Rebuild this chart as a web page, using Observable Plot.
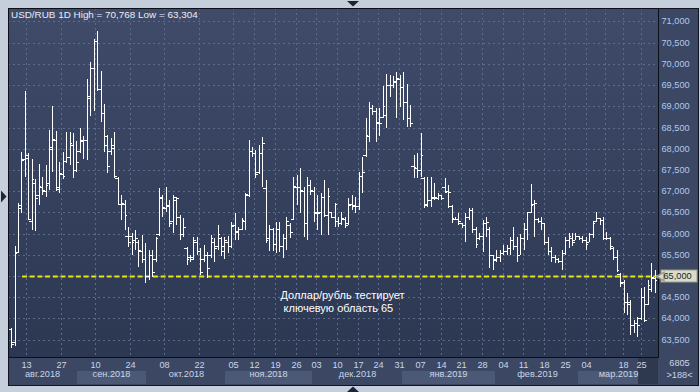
<!DOCTYPE html>
<html><head><meta charset="utf-8">
<script src="https://cdn.jsdelivr.net/npm/d3@7"></script>
<script src="https://cdn.jsdelivr.net/npm/@observablehq/plot@0.6"></script>
<style>
html,body{margin:0;padding:0;background:#c5cfdc;}
#chart{width:700px;height:392px;overflow:hidden;}
</style></head><body><div id="chart"></div>
<script>
// Daily OHLC, USD/RUB, Aug 2018 - Mar 2019 (188 bars)
const open = [
 63.75,63.45,65.57,66.60,67.75,67.85,66.30,67.20,66.90,67.10,
 67.00,67.20,68.00,68.20,67.10,67.40,67.70,67.80,68.10,67.50,
 67.95,68.20,68.20,69.20,69.90,70.55,69.40,68.85,68.30,67.95,
 68.10,67.30,66.70,66.70,65.95,65.95,65.85,65.80,65.60,65.40,
 65.00,65.50,65.40,66.00,66.85,66.60,66.65,66.30,66.80,66.40,
 66.00,65.65,65.45,65.45,65.80,65.60,65.40,65.50,65.50,
 65.80,65.70,65.90,65.60,65.80,65.70,
 66.20,66.05,66.10,66.30,66.90,67.95,67.90,67.45,67.90,67.07,
 65.90,66.10,65.75,66.10,65.70,65.90,66.20,66.35,67.10,67.10,
 67.00,66.25,67.15,67.00,66.50,66.50,66.86,66.45,66.50,66.40,
 66.30,66.25,66.35,66.25,66.70,66.65,66.65,67.36,67.85,68.30,
 68.96,68.90,68.60,68.75,68.80,69.50,69.50,69.60,69.65,69.45,
 69.10,68.72,67.60,67.55,67.50,67.30,66.70,66.80,66.85,66.85,
 66.90,67.10,67.00,66.65,66.35,66.35,66.25,66.20,66.40,66.55,
 66.10,65.90,65.95,66.25,66.10,65.50,65.40,65.45,65.55,65.60,
 65.65,65.85,65.70,65.50,65.90,66.10,66.50,66.70,66.35,66.30,
 66.25,65.80,65.60,65.45,65.40,65.35,65.55,65.85,65.90,65.85,
 65.95,65.90,65.85,65.80,66.00,66.30,66.37,66.32,
 65.90,65.90,65.65,65.45,65.05,64.85,64.40,64.35,63.85,63.90,64.00,64.50,64.35,64.70,64.95
];
const high = [
 63.78,65.70,66.72,67.92,69.36,67.90,67.76,67.29,67.64,67.33,
 67.62,68.44,69.01,68.42,67.69,67.92,68.40,68.40,68.37,68.18,
 68.49,68.30,69.64,70.05,70.59,70.768,69.83,69.06,68.32,68.25,
 68.40,67.33,66.91,66.79,66.16,66.02,66.08,65.85,65.97,65.78,
 65.62,65.62,65.92,67.07,66.91,67.10,66.79,66.91,66.86,66.44,
 66.37,65.68,65.50,65.92,65.92,65.66,65.73,65.57,65.97,
 65.89,66.20,65.92,65.92,65.95,66.27,
 66.49,66.16,66.37,66.96,68.21,68.05,67.97,68.10,68.28,67.26,
 66.20,66.13,66.27,66.27,66.00,66.39,66.25,67.33,67.38,67.55,
 67.10,67.33,67.26,67.10,66.91,66.96,67.26,67.07,66.51,66.72,
 66.39,66.51,66.39,66.84,66.91,66.86,67.45,67.81,68.72,69.10,
 69.03,68.95,68.96,69.48,69.76,69.74,69.72,69.81,69.74,69.81,
 69.53,69.03,67.85,67.90,68.37,67.33,67.33,67.33,67.19,66.96,
 66.91,67.31,67.15,66.67,66.39,66.49,66.25,66.49,66.60,66.60,
 66.16,66.02,66.32,66.39,66.16,65.50,65.62,65.62,65.73,65.73,
 65.92,66.16,65.92,66.00,66.25,66.51,67.17,66.79,66.37,66.39,
 66.25,65.92,65.68,65.50,65.43,65.62,65.92,66.02,66.02,66.02,
 65.95,65.95,65.92,66.02,66.27,66.51,66.37,66.39,
 66.05,65.92,65.68,65.62,65.07,64.91,64.60,64.44,63.96,64.03,64.72,64.74,64.91,65.31,65.14
];
const low = [
 63.304,63.35,65.55,66.49,67.33,66.32,66.09,66.06,66.68,66.91,
 66.86,67.03,67.45,67.00,66.96,67.29,67.66,67.62,67.31,67.45,
 67.90,67.75,67.74,68.77,68.90,69.36,68.63,67.92,67.43,67.85,
 67.31,66.67,66.32,66.09,65.68,65.50,65.62,65.22,65.31,64.84,
 64.91,64.98,65.33,65.95,66.39,66.51,66.16,66.02,66.20,65.85,
 65.92,65.26,65.33,65.38,65.50,65.02,65.33,64.96,65.43,
 65.33,65.62,65.47,65.40,65.55,65.66,
 65.85,65.85,66.09,66.09,66.86,67.80,67.31,67.40,67.10,65.78,
 65.60,65.60,65.55,65.57,65.43,65.62,65.90,66.32,66.67,66.49,
 65.92,65.85,66.91,66.27,66.09,65.97,66.40,65.97,66.37,66.16,
 66.16,66.20,66.13,66.20,66.56,66.49,66.56,66.96,67.81,68.16,
 68.80,68.16,68.30,68.72,68.49,69.22,69.43,68.72,68.98,68.68,
 68.51,68.51,67.31,67.31,67.33,66.60,66.63,66.63,66.79,66.79,
 66.79,66.96,66.60,66.25,66.32,66.20,66.13,65.80,66.32,66.02,
 65.66,65.85,65.57,65.92,65.19,65.14,65.33,65.33,65.50,65.50,
 65.50,65.62,65.33,65.50,65.62,65.85,66.49,65.92,66.25,66.09,
 65.73,65.50,65.33,65.31,65.31,65.14,65.50,65.66,65.70,65.85,
 65.85,65.78,65.62,65.80,65.90,66.27,66.20,65.85,
 65.85,65.62,65.38,65.10,64.74,64.13,64.08,63.61,63.66,63.56,63.96,63.92,64.32,64.62,64.60
];
const close = [
 63.40,65.55,66.67,67.74,67.78,66.35,67.29,66.84,67.12,67.03,
 67.15,68.04,68.23,67.05,67.43,67.35,67.81,68.14,67.50,67.69,
 68.18,68.20,69.24,69.90,70.55,69.41,68.84,68.10,67.60,68.02,
 67.35,66.70,66.72,66.44,65.80,65.80,65.90,65.61,65.40,65.00,
 65.50,65.10,65.90,66.86,66.63,66.67,66.25,66.86,66.84,66.00,
 66.16,65.40,65.40,65.85,65.60,65.10,65.50,65.20,65.90,
 65.66,66.00,65.70,65.85,65.70,66.18,
 66.06,66.10,66.32,66.93,67.95,67.90,67.40,67.90,68.14,65.85,
 66.10,65.75,66.10,65.70,65.90,66.30,66.05,67.12,67.10,67.03,
 66.25,67.15,67.03,66.49,66.49,66.86,66.44,66.89,66.39,66.70,
 66.25,66.37,66.20,66.67,66.67,66.65,67.36,67.45,68.33,68.96,
 68.90,68.63,68.60,69.00,69.50,69.50,69.57,69.67,69.46,69.10,
 68.72,68.60,67.57,67.50,67.85,66.67,66.79,66.86,66.86,66.90,
 66.85,66.98,66.98,66.37,66.35,66.30,66.20,66.40,66.55,66.10,
 65.75,65.95,66.25,66.27,65.50,65.38,65.45,65.55,65.60,65.65,
 65.85,65.70,65.50,65.90,66.10,66.50,66.67,66.72,66.30,66.25,
 65.80,65.60,65.45,65.40,65.35,65.55,65.85,65.95,65.80,65.95,
 65.90,65.85,65.75,66.00,66.25,66.37,66.32,65.90,
 65.90,65.70,65.45,65.15,64.84,64.39,64.39,63.85,63.90,63.85,64.50,63.96,64.80,64.98,64.90
];

// Week tick labels (positions are bar indexes)
const tickIdx    = [4.33,14.5,24.4,34.55,44.43,54.6,64.5,70.6,76.7,82.8,88.6,94.7,100.8,106.6,112.7,118.8,124.9,130.7,136.85,142.95,148.75,154.85,160.95,167.05,177.8,183.0];
const tickLabels = ["13","27","10","24","08","22","05","12","19","26","03","10","17","24","31","07","14","21","28","04","11","18","25","04","18","25"];
const extraGrid  = [172.6]; // 11 Mar, unlabeled
const monthLabels = ["авг.2018","сен.2018","окт.2018","ноя.2018","дек.2018","янв.2019","фев.2019","мар.2019"];
const monthStart  = [-0.9,19.15,39.2,62.2,87.4,113.6,140.6,164.8];
const xEnd = 188;
const currentWeekStart = 182.1;
const yTicks = d3.range(63.5, 71.001, 0.5);
const keyLevel = 65;
const keyLineStart = 3.17;
const annotation = {i: 78.1, value: 64.42, text: "Доллар/рубль тестирует\n\u00a0ключевую область 65"};

const bars = open.map((o, i) => ({i, open: o, high: high[i], low: low[i], close: close[i]}));
const months = monthLabels.map((label, k) => ({label, x1: monthStart[k], x2: k + 1 < monthStart.length ? monthStart[k + 1] : xEnd, k}));
const labelMap = new Map(tickIdx.map((t, k) => [t, tickLabels[k]]));
const fmt = v => v.toFixed(3).replace(".", ",");
const title = `USD/RUB 1D High = ${fmt(d3.max(high))} Low = ${fmt(d3.min(low))}`;

const FONT = "'Liberation Sans', Arial, sans-serif";
const plot = Plot.plot({
  width: 700, height: 392,
  marginLeft: 8, marginRight: 42, marginTop: 8, marginBottom: 35,
  style: {background: "#c5cfdc", fontFamily: FONT, fontSize: "9.2px"},
  x: {domain: [-0.9, xEnd], round: true},
  y: {domain: [63.092, 71.318], round: true},
  marks: [
    Plot.frame({insetRight: -40, insetBottom: -28, fill: "#3b4763", stroke: "#10151f"}),
    Plot.rect(months.filter(d => d.k % 2 === 1), {x1: "x1", x2: "x2", insetTop: 363, insetBottom: -27, fill: "#4b5876"}),
    Plot.rect([{x1: currentWeekStart, x2: xEnd}], {x1: "x1", x2: "x2", insetTop: 349, insetBottom: -27, fill: "#2e3950"}),
    Plot.frame({fill: "#3a4764"}),
    Plot.gridY(yTicks, {stroke: "#5b6a8d", strokeOpacity: 1, strokeDasharray: "2,3"}),
    Plot.gridX([...tickIdx, ...extraGrid], {stroke: "#5b6a8d", strokeOpacity: 1, strokeDasharray: "2,3"}),
    Plot.ruleY([keyLevel], {x1: keyLineStart, x2: xEnd, stroke: "#e6e60c", strokeWidth: 2.2, strokeDasharray: "5,2.7"}),
    Plot.ruleX(bars, {x: "i", y1: "low", y2: "high", stroke: "#ffffff", strokeWidth: 1}),
    Plot.ruleY(bars, {y: "open", x1: d => d.i - 0.8, x2: "i", stroke: "#ffffff", strokeWidth: 1}),
    Plot.ruleY(bars, {y: "close", x1: "i", x2: d => d.i + 0.8, stroke: "#ffffff", strokeWidth: 1}),
    Plot.frame({stroke: "#0b0f17"}),
    // the 65,000 level is labelled by the price box instead of an axis label
    Plot.axisY({ticks: yTicks.filter(t => t !== keyLevel), anchor: "right", tickSize: 0, tickPadding: 3, tickFormat: fmt, color: "#aecbef", fontSize: 9.2}),
    Plot.axisX({ticks: tickIdx, anchor: "bottom", tickSize: 0, tickPadding: 3.5, tickFormat: d => labelMap.get(d), color: "#c9d6e9", fontSize: 9.2}),
    Plot.text(months, {x: d => (d.x1 + d.x2) / 2, text: "label", frameAnchor: "bottom", dy: 19.5, fill: "#c9d6e9", fontSize: 9.2}),
    Plot.text([title], {frameAnchor: "top-left", dx: 2.5, dy: 2.3, lineAnchor: "top", textAnchor: "start", fill: "#e8eef6", fontSize: 9.9}),
    Plot.text([annotation], {x: "i", y: "value", text: "text", textAnchor: "start", lineHeight: 1.18, fontSize: 11, fill: "#ffffff"}),
    Plot.rect([keyLevel], {y1: d => d, y2: d => d, insetTop: -6, insetBottom: -6, insetLeft: 653, insetRight: -39, fill: "#dadccb", stroke: "#9a9c8c"}),
    Plot.dot([keyLevel], {y: d => d, frameAnchor: "right", dx: 3, symbol: "triangle", rotate: -90, r: 3.2, fill: "#dadccb", stroke: "#9a9c8c"}),
    Plot.text([keyLevel], {y: d => d, text: fmt, frameAnchor: "right", dx: 5, textAnchor: "start", fill: "#222222", fontSize: 9.2}),
    Plot.text(["6805"], {frameAnchor: "bottom-right", dx: 21, dy: 8.5, textAnchor: "middle", fill: "#c9d6e9", fontSize: 9.2}),
    Plot.text([`>${bars.length}<`], {frameAnchor: "bottom-right", dx: 21, dy: 20, textAnchor: "middle", fill: "#c9d6e9", fontSize: 9.2})
  ]
});

// plot-area background gradient
const svg = d3.select(plot);
const defs = svg.insert("defs", ":first-child");
const grad = defs.append("linearGradient").attr("id", "plotbg").attr("x1", 0).attr("y1", 0).attr("x2", 0).attr("y2", 1);
grad.append("stop").attr("offset", "0%").attr("stop-color", "#3f4b69");
grad.append("stop").attr("offset", "100%").attr("stop-color", "#2c3752");
plot.querySelectorAll('[fill="#3a4764"]').forEach(el => el.setAttribute("fill", "url(#plotbg)"));

// window chrome triangles
svg.append("path").attr("d", "M347,1L359,1L353,6.5Z").attr("fill", "#1c2535");
svg.append("path").attr("d", "M347,392L359,392L353,386.5Z").attr("fill", "#1c2535");
svg.append("path").attr("d", "M1,190.5L1,202.5L6.5,196.5Z").attr("fill", "#1c2535");

document.getElementById("chart").appendChild(plot);
</script>
</body></html>
